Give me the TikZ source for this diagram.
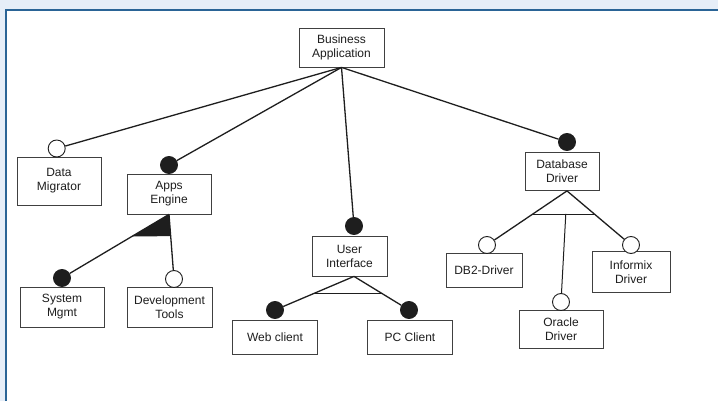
\documentclass[tikz,border=0pt]{standalone}
\usepackage{fontspec}
\setmainfont{Liberation Sans}
\usetikzlibrary{calc}
\definecolor{bgblue}{HTML}{E6EEF8}
\definecolor{frameblue}{HTML}{2A6496}
\definecolor{inkc}{HTML}{1E1E1E}
\tikzset{
  box/.style={draw=inkc!85, line width=0.8pt, fill=white, align=center, inner sep=0pt,
    font=\fontsize{12}{14}\selectfont, text=inkc},
  opt/.style={circle, draw=inkc, line width=0.9pt, fill=white, minimum size=17pt, inner sep=0pt},
  mand/.style={circle, draw=inkc, line width=0.9pt, fill=inkc, minimum size=17pt, inner sep=0pt},
  conn/.style={draw=inkc, line width=1.3pt},
  thin/.style={draw=inkc, line width=0.8pt}
}
\begin{document}
\begin{tikzpicture}[x=1pt,y=-1pt]
\useasboundingbox (0,0) rectangle (718,401);
\fill[bgblue] (0,0) rectangle (718,401);
\fill[white] (6,10) rectangle (718,401);
\draw[frameblue, line width=2pt] (6,401) -- (6,10) -- (718,10);

% boxes
\node[box, minimum width=85pt, minimum height=39pt] (biz) at (341.5,47.5) {Business\\Application};
\node[box, minimum width=84pt, minimum height=48pt] (dm) at (59,181) {Data\\Migrator};
\node[box, minimum width=84pt, minimum height=40pt] (ae) at (169,194) {Apps\\Engine};
\node[box, minimum width=84pt, minimum height=40pt] (sm) at (62,307) {System\\Mgmt};
\node[box, minimum width=85pt, minimum height=40pt] (dt) at (169.5,307) {Development\\Tools};
\node[box, minimum width=75pt, minimum height=40pt] (ui) at (349.5,256) {User\\Interface};
\node[box, minimum width=85pt, minimum height=34pt] (web) at (275,337) {Web client};
\node[box, minimum width=85pt, minimum height=34pt] (pc) at (410,337) {PC Client};
\node[box, minimum width=74pt, minimum height=38pt] (dd) at (562,171.5) {Database\\Driver};
\node[box, minimum width=76pt, minimum height=34pt] (db2) at (484,270) {DB2-Driver};
\node[box, minimum width=78pt, minimum height=41pt] (inf) at (631,272) {Informix\\Driver};
\node[box, minimum width=84pt, minimum height=38pt] (ora) at (561,329) {Oracle\\Driver};

% circles
\node[opt]  (dmc)  at (56.7,148.5) {};
\node[mand] (aec)  at (169,165) {};
\node[mand] (smc)  at (62,278) {};
\node[opt]  (dtc)  at (174,279) {};
\node[mand] (uic)  at (354,226) {};
\node[mand] (webc) at (275,310) {};
\node[mand] (pcc)  at (409,310) {};
\node[mand] (ddc)  at (567,142) {};
\node[opt]  (db2c) at (487,245) {};
\node[opt]  (infc) at (631,245) {};
\node[opt]  (orc)  at (561,302) {};

% apexes
\coordinate (bizA) at (biz.south);
\coordinate (aeA) at (ae.south -| aec);
\coordinate (uiA) at (ui.south -| uic);
\coordinate (ddA) at (dd.south -| ddc);

% group bars
\coordinate (aeL) at ($(aeA)!0.344!(smc)$);
\coordinate (aeR) at ($(aeA)!0.338!(dtc)$);
\fill[inkc] (aeA) -- (aeL) -- (aeR) -- cycle;
\coordinate (uiL) at ($(uiA)!0.5!(webc)$);
\coordinate (uiR) at ($(uiA)!0.5!(pcc)$);
\draw[thin] (uiL) -- (uiR);
\coordinate (ddL) at ($(ddA)!0.426!(db2c)$);
\coordinate (ddR) at ($(ddA)!0.426!(infc)$);
\draw[thin] (ddL) -- (ddR);
\coordinate (ddO) at ($(ddL)!0.536!(ddR)$);

% connectors
\draw[conn] (bizA) -- (dmc);
\draw[conn] (bizA) -- (aec);
\draw[conn] (bizA) -- (uic);
\draw[conn] (bizA) -- (ddc);
\draw[conn] (aeA) -- (smc);
\draw[conn] (aeA) -- (dtc);
\draw[conn] (uiA) -- (webc);
\draw[conn] (uiA) -- (pcc);
\draw[conn] (ddA) -- (db2c);
\draw[conn] (ddA) -- (infc);
\draw[thin, line width=1pt] (ddO) -- (orc);
\end{tikzpicture}
\end{document}
